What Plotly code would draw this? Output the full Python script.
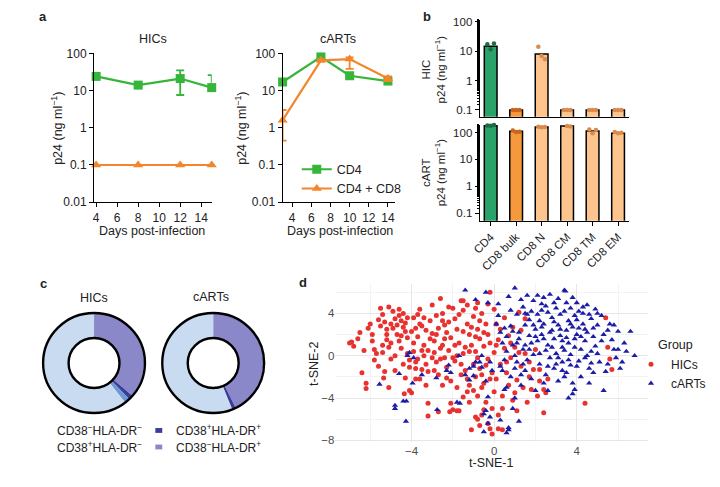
import plotly.graph_objects as go

FONT = "Liberation Sans, Arial, sans-serif"
W, H = 720, 487

# ---------------- Panel a data ----------------
hic_days = [4, 8, 12, 15]
hic_cd4 = [24, 14, 21, 12]
hic_cd4_err_plus = [3, 2, 14, 14]
hic_cd4_err_minus = [3, 2, 13.4, 2]
hic_cd4cd8 = [0.1, 0.1, 0.1, 0.1]

cart_days = [3, 7, 10, 14]
cart_cd4 = [17, 80, 25, 18]
cart_cd4_err_plus = [2, 6, 3, 2]
cart_cd4_err_minus = [2, 6, 3, 2]
cart_cd4cd8 = [1.6, 65, 70, 21]
cart_cd4cd8_err_plus = [1.4, 5, 8, 3]
cart_cd4cd8_err_minus = [1.15, 5, 32, 3]

day_ticks = [4, 6, 8, 10, 12, 14]
log_ticks_a = [0.01, 0.1, 1, 10, 100]
log_ticktext_a = ["0.01", "0.1", "1", "10", "100"]

# ---------------- Panel b data ----------------
subsets = ["CD4", "CD8 bulk", "CD8 N", "CD8 CM", "CD8 TM", "CD8 EM"]
hic_bar = [14.5, 0.1, 8.0, 0.1, 0.1, 0.1]
cart_bar = [180, 112, 160, 175, 115, 95]
hic_reps = [[17, 11.5, 18], [0.1, 0.1, 0.1], [14, 6.8, 5.3],
            [0.1, 0.1, 0.1], [0.1, 0.1, 0.1], [0.1, 0.1, 0.1]]
cart_reps = [[185, 180, 190], [120, 105, 108], [165, 158, 162],
             [205, 175, 170], [130, 95, 125], [105, 95, 98]]
bar_colors = ["#2aa36b", "#f6993c", "#fdc48e", "#fdc48e", "#fdc48e", "#fdc48e"]
dot_colors = ["#1c6b45", "#c9651d", "#d98a4c", "#d98a4c", "#d98a4c", "#d98a4c"]
log_ticks_b = [0.1, 1, 10, 100]
log_ticktext_b = ["0.1", "1", "10", "100"]

# ---------------- Panel c data ----------------
donut_labels = ["CD38⁻HLA-DR⁺", "CD38⁺HLA-DR⁺", "CD38⁺HLA-DR⁻", "CD38⁻HLA-DR⁻"]
hic_pct = [36.3, 1.4, 1.7, 60.6]
cart_pct = [42.6, 1.2, 0.1, 56.1]
donut_colors = ["#8b88c9", "#3a3d9b", "#6e97d5", "#c9dbf0"]

# ---------------- Panel d data ----------------
hic_points = [
    (-7.0, 1.2), (-6.9, 1.3), (-6.6, 1.6), (-6.3, 0.5), (-6.1, 2.6), (-6.4, -1.6), (-6.2, -2.6),
    (-6.2, -3.1), (-5.9, 1.4), (-5.8, 0.6), (-5.7, 0.2), (-5.6, -1.0), (-5.5, 4.5), (-5.4, 3.9),
    (-5.3, 3.2), (-5.2, 2.5), (-5.2, 1.5), (-5.1, 0.8), (-5.0, -0.3), (-5.35, -2.1), (-5.1, -3.0),
    (-4.9, 4.2), (-4.8, 3.5), (-4.7, 2.9), (-4.7, 2.0), (-4.6, 1.4), (-4.5, 0.7), (-4.5, 1.9),
    (-4.4, 4.0), (-4.3, 3.1), (-4.3, 2.3), (-4.2, 1.7), (-4.2, 0.2), (-4.1, -0.4), (-4.1, -1.1),
    (-4.35, -3.6), (-4.1, -3.3), (-4.0, -3.5), (-5.2, 2.0), (-5.6, 3.4), (-5.9, 2.0), (-4.4, -0.8),
    (-4.8, -1.4), (-5.3, -1.5), (-4.3, -2.1), (-3.8, -2.2), (-5.0, 3.0), (-4.6, 3.8), (-5.4, 1.0),
    (-3.9, 3.6), (-3.8, 2.6), (-3.7, 1.8), (-3.6, 4.4), (-3.5, 2.8), (-3.4, 1.0), (-3.4, 0.0),
    (-3.3, -0.8), (-3.2, -1.5), (-3.1, 3.3), (-3.0, 2.1), (-3.0, 4.8), (-2.9, 1.4), (-2.9, 0.3),
    (-2.8, -0.6), (-2.7, -1.8), (-2.7, 2.6), (-2.6, 5.4), (-2.5, 4.0), (-2.5, 1.0), (-2.4, -0.2),
    (-2.3, -1.1), (-2.2, 3.2), (-2.2, 0.5), (-2.1, 1.7), (-2.1, -2.4), (-2.0, 4.5), (-3.8, -1.2),
    (-3.6, -2.2), (-3.9, 0.4), (-3.7, -0.3), (-3.2, -4.5), (-3.2, -5.7), (-2.5, -2.8), (-2.3, 2.2),
    (-2.6, 0.7), (-2.8, 3.8), (-3.3, 2.4), (-2.7, -5.3), (-2.15, -5.3), (-2.0, -5.1), (-2.1, -4.5),
    (-3.5, -1.3), (-3.0, -0.2), (-3.6, 3.0), (-2.4, 2.9),
    (-1.9, 3.5), (-1.9, -0.5), (-1.8, -5.2), (-1.7, -5.2), (-1.8, 2.5), (-1.7, 1.2), (-1.6, 5.2),
    (-1.5, 5.2), (-1.5, 4.3), (-1.5, 0.2), (-1.4, -1.4), (-1.3, -3.4), (-1.3, 3.0), (-1.2, 2.0),
    (-1.2, -4.4), (-1.1, 1.0), (-1.0, -0.8), (-1.0, 3.7), (-0.9, 0.4), (-0.9, -2.0), (-0.8, 2.5),
    (-0.8, -6.0), (-0.7, 1.6), (-0.7, -1.2), (-0.6, -5.6), (-0.6, 4.0), (-0.5, 0.9), (-0.5, -2.6),
    (-0.4, 3.0), (-0.4, -4.4), (-0.3, 2.0), (-0.3, -0.3), (-0.3, -6.4), (-0.2, 6.0), (-0.2, 1.2),
    (-0.1, -1.6), (-0.1, -5.0), (0.0, 4.4), (0.0, 0.3), (-1.2, -2.8), (-1.6, -1.8), (-0.8, -3.8),
    (-0.5, -5.1), (-0.2, -6.9), (-0.1, -7.4), (-1.1, -7.0), (-0.6, -3.0), (-1.4, 0.8), (-1.8, 0.0),
    (-0.9, 1.8), (-1.5, -3.9), (-0.9, -5.8), (-0.7, -6.6), (-1.3, 4.8), (-0.8, 5.0),
    (0.1, -2.2), (0.1, 3.0), (0.2, 1.5), (0.2, -6.9), (0.3, -0.8), (0.3, 2.5), (0.4, -3.8),
    (0.4, -7.0), (0.5, 0.7), (0.6, -1.6), (0.7, 1.9), (0.7, -2.8), (0.8, -0.2), (0.9, -4.2),
    (1.0, 0.8), (1.1, -2.3), (1.2, 4.1), (1.3, -1.0), (1.4, -3.0), (1.5, 0.2), (1.5, 3.5),
    (1.6, -4.4), (1.7, -2.0), (1.8, -3.2), (1.9, -1.3), (2.0, 0.6), (1.2, 0.3), (0.9, 2.7),
    (2.2, -2.4), (2.4, -5.4), (2.4, -3.2), (2.6, -2.2), (2.5, -3.5), (4.4, -4.5), (5.4, 3.6),
    (5.6, -0.3), (5.5, 0.8), (5.7, -1.3), (2.1, -3.8),
    (-6.8, 0.9), (-6.5, 2.2), (-6.0, 3.0), (-5.8, -0.4), (-5.5, 2.8), (-5.4, 0.3), (-5.1, 4.6),
    (-5.0, 1.2), (-4.9, 2.6), (-4.8, 0.0), (-4.6, 4.4), (-4.5, 3.3), (-4.4, 2.7), (-4.2, 3.6),
    (-4.0, 2.3), (-3.9, 1.2), (-3.8, -0.6), (-3.7, 3.9), (-3.5, 0.5), (-3.4, 3.6), (-3.3, -2.8),
    (-3.2, 0.5), (-3.1, 1.6), (-2.9, -1.4), (-2.8, 2.0), (-2.6, -0.3), (-2.5, 3.3), (-2.4, 1.6),
    (-2.3, -2.1), (-2.2, 4.6), (-2.0, -0.2), (-1.9, 1.0), (-1.8, -3.0), (-1.7, 3.9), (-1.6, -0.8),
    (-1.5, 2.3), (-1.3, -2.2), (-1.2, 0.4), (-1.1, 2.7), (-1.0, -3.3), (-0.9, 4.5), (-0.8, -0.2),
    (-0.7, 3.3), (-0.6, -1.8), (-0.5, 2.2), (-0.4, -0.9), (-0.3, 4.9), (-0.2, -2.2), (0.0, -3.4),
    (0.1, 1.0), (0.2, -5.6), (0.4, -5.0), (0.5, 3.6), (0.6, -0.6), (0.8, 1.2), (1.0, -3.5),
    (1.1, -5.2), (1.3, 2.4), (1.7, -0.6), (2.2, -1.3),
]
cart_points = [
    (-5.55, -2.7), (-4.8, -4.7), (-4.8, -5.0), (-4.4, -4.3), (-4.25, -4.3), (-4.27, -6.2),
    (-4.2, 0.0), (-4.1, 0.3), (-3.95, -2.6), (-4.6, -1.7), (-3.5, -1.8), (-3.9, -0.2),
    (-2.8, -2.1), (-2.76, -5.1), (-2.3, -1.4), (-2.2, -0.9), (-2.1, -1.6), (-1.66, -4.5),
    (-1.4, 6.2), (-0.9, 5.3), (-0.4, 6.0), (-0.3, 5.0), (-1.4, -1.8), (-1.2, -1.2), (-1.0, -1.9),
    (-0.9, -0.6), (-0.7, -0.6), (-0.6, -1.1), (-0.5, -5.5), (-0.5, -7.2), (-0.4, -5.2), (-0.3, -3.9),
    (-0.2, -0.6), (-0.3, -6.4), (-0.1, -1.4), (-1.8, -4.4), (-1.2, -2.3), (-1.7, 0.0), (-0.6, 0.0),
    (0.1, 3.0), (0.2, 4.9), (0.3, 2.2), (0.4, 1.2), (0.4, -1.4), (0.5, -0.4), (0.5, -3.2),
    (0.6, -7.3), (0.7, -7.0), (0.7, -6.8), (0.7, 5.6), (0.8, 2.8), (0.8, -2.0), (0.9, 1.0),
    (0.9, -5.0), (1.0, 6.4), (1.0, 0.0), (1.1, 3.9), (1.1, -0.6), (1.2, 2.2), (1.2, 1.6),
    (1.3, -2.8), (1.3, 5.3), (1.4, 4.6), (1.4, 0.6), (1.5, -1.4), (1.5, 2.9), (1.6, 5.7),
    (1.6, -0.4), (1.7, 1.9), (1.7, 3.4), (1.8, -2.2), (1.8, 1.2), (1.9, 5.2), (1.9, 0.1),
    (2.0, 2.5), (2.0, -3.3), (1.0, -4.0), (1.2, -6.2), (0.3, -1.0), (0.6, 1.8), (1.4, -0.8),
    (0.9, 2.3), (1.6, 3.9), (1.8, 4.2), (0.6, -3.0),
    (2.1, 5.7), (2.1, 1.4), (2.2, -0.8), (2.3, 4.3), (2.3, 2.0), (2.4, 5.5), (2.4, 3.0),
    (2.5, 0.5), (2.5, -1.8), (2.6, 4.1), (2.6, 1.0), (2.7, 5.8), (2.7, -0.2), (2.8, 3.6),
    (2.8, 2.4), (2.9, 1.6), (2.9, -1.2), (3.0, 4.5), (3.0, 0.2), (3.1, 2.9), (3.1, -2.4),
    (3.2, 3.9), (3.2, 1.9), (3.3, 0.8), (3.3, -0.6), (3.4, 6.2), (3.45, 6.1), (3.5, 5.0),
    (3.5, 2.4), (3.5, -1.6), (3.6, 3.3), (3.6, 1.2), (3.7, 4.5), (3.7, 0.1), (3.8, 2.7),
    (3.8, -2.6), (3.9, 3.8), (3.9, 1.6), (4.0, -1.0), (4.0, 5.0), (4.0, 2.0), (2.2, 3.3),
    (2.4, -2.6), (2.9, 5.0), (3.1, -0.2), (3.4, 0.5), (2.6, -3.3), (3.8, -3.6), (3.6, -4.0),
    (3.9, -3.2), (3.7, -0.9), (2.3, 4.9), (3.3, 1.4), (2.0, 1.8),
    (4.1, 4.2), (4.2, 0.6), (4.2, -2.0), (4.3, 3.0), (4.4, 1.4), (4.4, -0.2), (4.5, 4.8),
    (4.5, 2.2), (4.6, -1.2), (4.7, 3.5), (4.7, 0.4), (4.8, 1.8), (4.8, -1.6), (4.9, 4.4),
    (5.0, 2.9), (5.0, 0.2), (5.1, -0.6), (5.2, 3.8), (5.2, 1.4), (5.3, -3.3), (5.4, -1.5),
    (5.5, 2.4), (5.6, 3.0), (5.8, 0.6), (5.9, -0.2), (6.0, 0.6), (6.0, 2.3), (6.2, -0.6),
    (6.4, 0.4), (6.6, 2.3), (6.8, 0.0), (6.1, -1.2), (4.3, 4.0), (4.6, -2.6), (5.7, 1.5),
    (4.1, 2.6),
    (0.2, 3.8), (0.5, 2.6), (0.8, 4.3), (1.1, 1.2), (1.3, -1.8), (1.5, 4.0), (1.7, 0.6),
    (1.9, 2.9), (2.1, 3.9), (2.2, 0.2), (2.4, 1.6), (2.5, 4.7), (2.7, 2.2), (2.8, 0.8),
    (2.9, 3.2), (3.0, -0.8), (3.1, 5.4), (3.2, 2.5), (3.3, -1.4), (3.4, 4.2), (3.5, 1.7),
    (3.6, -0.4), (3.7, 3.0), (3.8, 5.5), (3.9, 0.8), (4.0, 3.4), (4.1, -0.5), (4.2, 1.8),
    (4.3, 4.6), (4.4, 2.5), (4.5, 0.0), (4.6, 3.9), (4.8, 2.6), (4.9, 0.9), (5.0, 4.0),
    (5.3, 2.0), (5.5, -0.8), (5.8, 2.9), (6.3, 1.2), (4.7, -0.7), (1.0, -1.2), (0.6, 0.4),
    (-0.4, -2.4), (-1.0, -1.0), (-0.2, -5.8), (0.3, -6.1), (2.6, -1.0), (3.4, -2.0), (1.5, 1.0),
    (2.3, 2.7),
]

GREEN = "#35b53a"
ORANGE = "#f3862a"
RED = "#e8322f"
BLUE = "#1c1ca8"


def px_x(p):
    return p / W


def px_y(p):
    return 1 - p / H


fig = go.Figure()

# ---------- Panel a ----------
fig.add_trace(go.Scatter(
    x=hic_days, y=hic_cd4, mode="lines+markers", xaxis="x", yaxis="y",
    line=dict(color=GREEN, width=2.2), marker=dict(symbol="square", size=9, color=GREEN),
    error_y=dict(type="data", array=hic_cd4_err_plus, arrayminus=hic_cd4_err_minus,
                 color=GREEN, thickness=1.8, width=4),
    showlegend=False, cliponaxis=False))
fig.add_trace(go.Scatter(
    x=hic_days, y=hic_cd4cd8, mode="lines+markers", xaxis="x", yaxis="y",
    line=dict(color=ORANGE, width=2.2), marker=dict(symbol="triangle-up", size=9, color=ORANGE),
    showlegend=False, cliponaxis=False))
fig.add_trace(go.Scatter(
    x=cart_days, y=cart_cd4, name="CD4", mode="lines+markers", xaxis="x2", yaxis="y2",
    line=dict(color=GREEN, width=2.2), marker=dict(symbol="square", size=9, color=GREEN),
    error_y=dict(type="data", array=cart_cd4_err_plus, arrayminus=cart_cd4_err_minus,
                 color=GREEN, thickness=1.8, width=4),
    legend="legend", cliponaxis=False))
fig.add_trace(go.Scatter(
    x=cart_days, y=cart_cd4cd8, name="CD4 + CD8", mode="lines+markers", xaxis="x2", yaxis="y2",
    line=dict(color=ORANGE, width=2.2), marker=dict(symbol="triangle-up", size=9, color=ORANGE),
    error_y=dict(type="data", array=cart_cd4cd8_err_plus, arrayminus=cart_cd4cd8_err_minus,
                 color=ORANGE, thickness=1.8, width=4),
    legend="legend", cliponaxis=False))

# ---------- Panel b ----------
n_rep = 3
for (xa, ya, bars, reps) in [("x3", "y3", hic_bar, hic_reps), ("x4", "y4", cart_bar, cart_reps)]:
    fig.add_trace(go.Bar(
        x=list(range(len(subsets))), y=bars, xaxis=xa, yaxis=ya, width=0.5,
        marker=dict(color=bar_colors, line=dict(color="black", width=1.5)),
        showlegend=False))
    dx, dy, dc = [], [], []
    for i, vals in enumerate(reps):
        for j, v in enumerate(vals):
            dx.append(i + (j - (n_rep - 1) / 2) * 0.13)
            dy.append(v)
            dc.append(dot_colors[i])
    fig.add_trace(go.Scatter(
        x=dx, y=dy, mode="markers", xaxis=xa, yaxis=ya,
        marker=dict(size=4.5, color=dc), showlegend=False, cliponaxis=False))

# ---------- Panel c ----------
donut_r = 51.5
donut_centers = [(87, 366.5), (207.5, 366.5)]
for (cx, cy), vals in zip(donut_centers, [hic_pct, cart_pct]):
    fig.add_trace(go.Pie(
        labels=donut_labels, values=vals, hole=0.5, sort=False, direction="clockwise",
        rotation=0, textinfo="none", hoverinfo="label+percent",
        marker=dict(colors=donut_colors, line=dict(width=0)),
        domain=dict(x=[px_x(cx - donut_r), px_x(cx + donut_r)],
                    y=[px_y(cy + donut_r), px_y(cy - donut_r)]),
        showlegend=False))

# ---------- Panel d ----------
fig.add_trace(go.Scatter(
    x=[p[0] for p in hic_points], y=[p[1] for p in hic_points], name="HICs",
    mode="markers", xaxis="x5", yaxis="y5", legend="legend2",
    marker=dict(symbol="circle", size=5, color=RED)))
fig.add_trace(go.Scatter(
    x=[p[0] for p in cart_points], y=[p[1] for p in cart_points], name="cARTs",
    mode="markers", xaxis="x5", yaxis="y5", legend="legend2",
    marker=dict(symbol="triangle-up", size=5.5, color=BLUE)))

# ---------- Axes ----------
axis_a = dict(showline=True, linecolor="black", linewidth=1, ticks="outside", ticklen=4,
              tickcolor="black", tickwidth=1, showgrid=False, zeroline=False,
              tickfont=dict(size=12, color="#222"))
ylog_a = dict(axis_a, type="log", range=[-2, 2], tickvals=log_ticks_a, ticktext=log_ticktext_a)

axis_b = dict(showline=True, linecolor="black", linewidth=1.2, showgrid=False, zeroline=False,
              tickfont=dict(size=11.5, color="#222"))
ylog_b = dict(axis_b, type="log", tickvals=log_ticks_b, ticktext=log_ticktext_b, ticks="outside",
              ticklen=4, tickcolor="black", minor=dict(ticks="outside", ticklen=2, tickcolor="black"))

grid_d = dict(showline=False, zeroline=False, showgrid=True, gridcolor="#e6e6e6", gridwidth=1,
              ticks="", tickfont=dict(size=11.5, color="#4d4d4d"), dtick=4, tick0=0,
              minor=dict(showgrid=True, gridcolor="#f3f3f3", dtick=2, tick0=0))

fig.update_layout(
    width=W, height=H, margin=dict(l=0, r=0, t=0, b=0),
    paper_bgcolor="white", plot_bgcolor="rgba(0,0,0,0)",
    font=dict(family=FONT, size=12, color="#222"),
    xaxis=dict(axis_a, domain=[px_x(87), px_x(206)], range=[3.8, 15.0], tickvals=day_ticks, anchor="y"),
    yaxis=dict(ylog_a, domain=[px_y(201), px_y(47.7)], anchor="x"),
    xaxis2=dict(axis_a, domain=[px_x(277.7), px_x(391)], range=[3.0, 14.7], tickvals=day_ticks, anchor="y2"),
    yaxis2=dict(ylog_a, domain=[px_y(201), px_y(47.7)], anchor="x2"),
    xaxis3=dict(axis_b, domain=[px_x(477), px_x(628)], range=[-0.43, 5.43], showticklabels=False,
                ticks="", anchor="y3"),
    yaxis3=dict(ylog_b, domain=[px_y(113), px_y(13.3)], range=[-1.23, 2.056], anchor="x3"),
    xaxis4=dict(axis_b, domain=[px_x(477), px_x(628)], range=[-0.43, 5.43],
                tickvals=list(range(len(subsets))), ticktext=subsets, tickangle=-45,
                ticks="outside", ticklen=4, tickcolor="black", anchor="y4"),
    yaxis4=dict(ylog_b, domain=[px_y(220), px_y(121)], range=[-1.28, 2.3], anchor="x4"),
    xaxis5=dict(grid_d, domain=[px_x(331), px_x(647)], range=[-7.69, 7.44], anchor="y5"),
    yaxis5=dict(grid_d, domain=[px_y(448), px_y(285)], range=[-8.17, 6.8], anchor="x5"),
    legend=dict(x=px_x(292), y=px_y(152), xanchor="left", yanchor="top", bgcolor="rgba(0,0,0,0)",
                font=dict(size=12.5, color="#222"), tracegroupgap=0, itemwidth=30),
    legend2=dict(x=px_x(630), y=px_y(353), xanchor="left", yanchor="top", bgcolor="rgba(0,0,0,0)",
                 font=dict(size=12, color="#222"), itemwidth=30, tracegroupgap=0),
)

# ---------- Annotations ----------
ann = []


def add_text(x, y, text, size=12, angle=0, bold=False, xanchor="center", color="#222"):
    ann.append(dict(x=px_x(x), y=px_y(y), xref="paper", yref="paper", text=f"<b>{text}</b>" if bold else text,
                    showarrow=False, textangle=angle, xanchor=xanchor, yanchor="middle",
                    font=dict(size=size, color=color, family=FONT)))


add_text(35, 10, "a", 13, bold=True)
add_text(424, 10, "b", 13, bold=True)
add_text(36, 285, "c", 13, bold=True)
add_text(298, 284, "d", 13, bold=True)

add_text(147, 33, "HICs", 12.5)
add_text(334, 33, "cARTs", 12.5)
add_text(146, 231, "Days post-infection", 12.5)
add_text(336, 231, "Days post-infection", 12.5)
add_text(50, 125, "p24 (ng ml<sup>−1</sup>)", 12.5, angle=-90)
add_text(236, 125, "p24 (ng ml<sup>−1</sup>)", 12.5, angle=-90)

add_text(430, 64, "HIC<br>p24 (ng ml<sup>−1</sup>)", 11.5, angle=-90)
add_text(430, 170, "cART<br>p24 (ng ml<sup>−1</sup>)", 11.5, angle=-90)

add_text(87, 300, "HICs", 12.5)
add_text(205, 299, "cARTs", 12.5)
add_text(93, 436, "CD38<sup>−</sup>HLA-DR<sup>−</sup>", 12)
add_text(93, 453, "CD38<sup>+</sup>HLA-DR<sup>−</sup>", 12)
add_text(213, 436, "CD38<sup>+</sup>HLA-DR<sup>+</sup>", 12)
add_text(213, 453, "CD38<sup>−</sup>HLA-DR<sup>+</sup>", 12)

add_text(489, 470, "t-SNE-1", 12.5)
add_text(310, 367, "t-SNE-2", 12.5, angle=-90)
add_text(655, 348, "Group", 12.5, xanchor="left")

shapes = []
for (cx, cy) in donut_centers:
    for r in (donut_r, donut_r / 2):
        shapes.append(dict(type="circle", xref="paper", yref="paper",
                           x0=px_x(cx - r), x1=px_x(cx + r), y0=px_y(cy + r), y1=px_y(cy - r),
                           line=dict(color="black", width=2.4), fillcolor="rgba(0,0,0,0)"))
for yy, col in [(436, donut_colors[1]), (453, donut_colors[0])]:
    shapes.append(dict(type="rect", xref="paper", yref="paper",
                       x0=px_x(149), x1=px_x(156), y0=px_y(yy + 2.5), y1=px_y(yy - 2.5),
                       line=dict(width=0), fillcolor=col))

fig.update_layout(annotations=ann, shapes=shapes)
fig.write_html("out.html", config={"displayModeBar": False},
               post_script="document.body.style.margin='0';document.body.style.overflow='hidden';")
